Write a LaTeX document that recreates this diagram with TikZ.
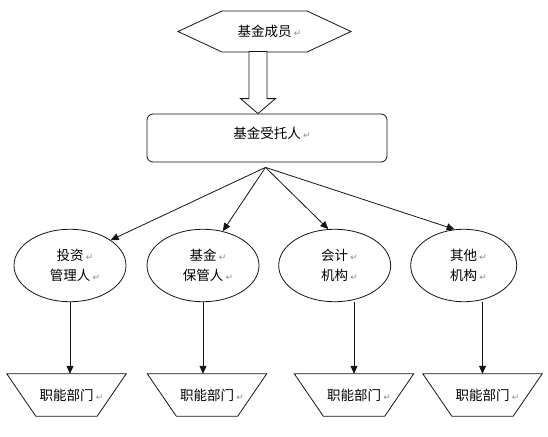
\documentclass[tikz,border=0pt]{standalone}
\usepackage{fontspec}
\usepackage{xcolor}
\usepackage{tikz}
\usetikzlibrary{shapes.geometric, shapes.symbols, arrows.meta, positioning, calc}
\setmainfont{Noto Sans CJK SC}
\newfontfamily\markfont{DejaVu Sans}
\definecolor{mydark}{RGB}{20,20,20}
\definecolor{markgray}{RGB}{140,140,140}
\newcommand\pmark{\rlap{\,\textcolor{markgray}{\markfont\fontsize{9}{9}\selectfont ↵}}}
\tikzset{
  hexbox/.style={signal, signal to=east and west, signal pointer angle=50,
    draw=mydark, minimum width=173pt, minimum height=41pt, inner sep=0pt,
    line width=0.8pt},
  trustbox/.style={rectangle, draw=mydark, rounded corners=6pt,
    minimum width=240pt, minimum height=48pt, line width=0.8pt},
  orgbox/.style={ellipse, draw=mydark, align=center, inner sep=0pt,
    minimum height=72.5pt, line width=0.8pt},
  deptbox/.style={rectangle, minimum width=119pt, minimum height=42pt, inner sep=0pt},
  outline/.style={draw=mydark, line width=0.8pt, line join=miter},
  arrow/.style={-{Triangle[length=8pt,width=7pt]}, line width=0.8pt, color=mydark},
  hollow/.style={draw=mydark, fill=white, line width=0.8pt}
}

\begin{document}
\begin{tikzpicture}[x=1pt, y=-1pt, font=\fontsize{13.5}{20}\selectfont]
  \useasboundingbox (0,0) rectangle (548,436);

  % Top: fund members and trustee
  \node[hexbox] (member) at (264.5,31.5) {基金成员\pmark};
  \node[trustbox] (trustee) at (267,138) {\raisebox{5pt}[\height][\depth]{基金受托人\pmark}};

  % Hollow block arrow between them
  \coordinate (tip) at ($(trustee.north)+(-9,0)$);
  \draw[hollow] (tip) -- ++(-17.5,-15) -- ++(8.5,0) -- ++(0,-47) -- ++(18,0)
    -- ++(0,47) -- ++(8.5,0) -- cycle;

  % Second level: the four bodies
  \node[orgbox, minimum width=112pt] (e1) at (70,265.5) {投资\pmark\\管理人\pmark};
  \node[orgbox, minimum width=112pt] (e2) at (203,265.5) {基金\pmark\\保管人\pmark};
  \node[orgbox, minimum width=112pt] (e3) at (334.7,265.5) {会计\pmark\\机构\pmark};
  \node[orgbox, minimum width=106pt] (e4) at (463.7,265.5) {其他\pmark\\机构\pmark};

  % Bottom: departments (inverted trapezoids)
  \node[deptbox] (t1) at (66.5,395) {职能部门\pmark};
  \node[deptbox] (t2) at (207,395) {职能部门\pmark};
  \node[deptbox] (t3) at (354,395) {职能部门\pmark};
  \node[deptbox] (t4) at (482.5,395) {职能部门\pmark};
  \foreach \t in {t1,t2,t3,t4}
    \draw[outline] (\t.north west) -- (\t.north east) -- ($(\t.south east)+(-29,0)$)
      -- ($(\t.south west)+(29,0)$) -- cycle;

  % Arrows from the trustee
  \coordinate (hub) at ($(trustee.south)+(-1.5,5)$);
  \draw[arrow] (hub) -- (e1.32);
  \draw[arrow] (hub) -- (e2.60);
  \draw[arrow] (hub) -- (e3.100);
  \draw[arrow] (hub) -- (e4.104);

  % Arrows down to the departments
  \draw[arrow] (e1.south) -- (e1.south |- t1.north);
  \draw[arrow] (e2.south) -- (e2.south |- t2.north);
  \draw[arrow] (t3.north |- e3.south) -- (t3.north);
  \draw[arrow] (t4.north |- e4.south) -- (t4.north);
\end{tikzpicture}
\end{document}
